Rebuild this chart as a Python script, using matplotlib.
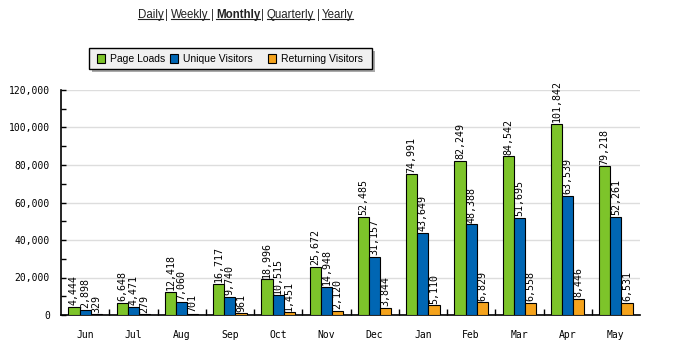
import matplotlib.pyplot as plt
import numpy as np
from matplotlib.patches import Rectangle

months = ['Jun', 'Jul', 'Aug', 'Sep', 'Oct', 'Nov', 'Dec', 'Jan', 'Feb', 'Mar', 'Apr', 'May']
page_loads = [4444, 6648, 12418, 16717, 18996, 25672, 52485, 74991, 82249, 84542, 101842, 79218]
unique_visitors = [2898, 4471, 7060, 9740, 10515, 14948, 31157, 43649, 48388, 51695, 63539, 52261]
returning_visitors = [329, 279, 701, 961, 1451, 2120, 3844, 5110, 6829, 6558, 8446, 6531]
series_names = ['Page Loads', 'Unique Visitors', 'Returning Visitors']
yticks = [0, 20000, 40000, 60000, 80000, 100000, 120000]
links = ['Daily', 'Weekly', 'Monthly', 'Quarterly', 'Yearly']

colors = ['#7dc42a', '#0066b3', '#f5a31c']
mono = 'DejaVu Sans Mono'
sans = 'Liberation Sans'

fig = plt.figure(figsize=(6.79, 3.51), dpi=100)
ax = fig.add_axes([61 / 679, 1 - 315 / 351, 579 / 679, 225 / 351])

x = np.arange(len(months))
w = 0.23
for i, (vals, c) in enumerate(zip([page_loads, unique_visitors, returning_visitors], colors)):
    pos = x + (i - 1) * w
    ax.bar(pos, vals, width=w, color=c, edgecolor='black', linewidth=0.8, zorder=3)
    for px, v in zip(pos, vals):
        ax.text(px, v + 900, f'{v:,}', rotation=90, ha='center', va='bottom',
                fontsize=7.2, family=mono, zorder=4)

ax.set_xlim(-0.5, len(months) - 0.5)
ax.set_ylim(0, 120000)
ax.set_yticks(yticks)
ax.set_yticklabels([f'{t:,}' for t in yticks], fontsize=7, family=mono)
ax.set_yticks(np.arange(10000, 120000, 20000), minor=True)
ax.set_xticks(x)
ax.set_xticklabels(months, fontsize=7, family=mono)
ax.set_xticks(np.arange(0.5, len(months) - 0.5, 1), minor=True)
ax.tick_params(axis='x', which='major', length=0, pad=11)
ax.tick_params(axis='x', which='minor', direction='in', length=4, width=1)
ax.tick_params(axis='y', which='both', direction='in', length=3.5, width=1, pad=8)
ax.grid(True, axis='y', color='#dddddd', linewidth=1, zorder=0)
for s in ['top', 'right']:
    ax.spines[s].set_visible(False)
ax.spines['left'].set_linewidth(1.2)
ax.spines['bottom'].set_linewidth(1.2)

# legend box with shadow
lx, ly, lw, lh = 89 / 679, 1 - 69 / 351, 283 / 679, 21 / 351
fig.patches.append(Rectangle((lx + 3 / 679, ly - 3 / 351), lw, lh, transform=fig.transFigure,
                             facecolor='#aaaaaa', edgecolor='none', zorder=1))
fig.patches.append(Rectangle((lx, ly), lw, lh, transform=fig.transFigure,
                             facecolor='#f0f0f0', edgecolor='black', linewidth=1, zorder=2))
item_x = [97, 170, 268]
for ix, name, c in zip(item_x, series_names, colors):
    fig.patches.append(Rectangle((ix / 679, 1 - 63 / 351), 8 / 679, 9 / 351, transform=fig.transFigure,
                                 facecolor=c, edgecolor='black', linewidth=0.8, zorder=3))
    fig.text((ix + 13) / 679, 1 - 58.5 / 351, name, fontsize=7.5, family=sans, va='center', zorder=4)

# period links
xpos = [150.5, 190, 238, 290.5, 337.5]
for xp, l in zip(xpos, links):
    t = fig.text(xp / 679, 1 - 15 / 351, l, ha='center', va='center', fontsize=8.3,
                 family=sans, fontweight='bold' if l == 'Monthly' else 'normal', color='#222222')
seps = [166.5, 212.5, 262.5, 318]
for sx in seps:
    fig.text(sx / 679, 1 - 15 / 351, '|', ha='center', va='center', fontsize=8.3,
             family=sans, color='#222222')

fig.canvas.draw()
r = fig.canvas.get_renderer()
for t in fig.texts:
    if t.get_text() in links:
        bb = t.get_window_extent(r).transformed(fig.transFigure.inverted())
        fig.add_artist(plt.Line2D([bb.x0, bb.x1], [bb.y0 + 0.006, bb.y0 + 0.006], transform=fig.transFigure,
                                  color='#222222', linewidth=0.8))

fig.savefig('out.png', dpi=100)
